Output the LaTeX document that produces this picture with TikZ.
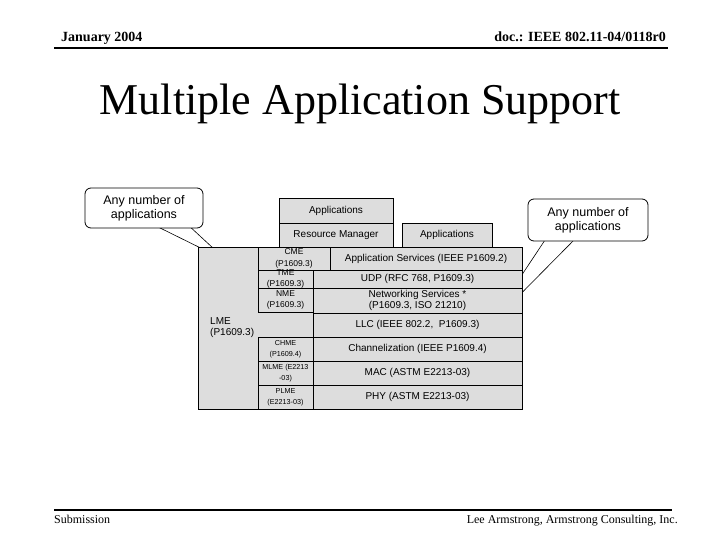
\documentclass[tikz,border=0pt]{standalone}
\usepackage{fontspec}
\setmainfont{Liberation Serif}
\newfontfamily\arial{Liberation Sans}
\definecolor{boxgray}{RGB}{221,221,221}
\tikzset{
  lay/.style={draw=black, fill=boxgray, line width=0.8pt, inner sep=0pt, align=center,
    font=\arial\fontsize{10}{11.5}\selectfont},
  sub/.style={lay, font=\arial\fontsize{8.5}{11.5}\selectfont},
  subs/.style={lay, font=\arial\fontsize{7.2}{11}\selectfont},
  callout/.style={draw=black, fill=white, line width=0.8pt, rounded corners=6pt, align=center,
    font=\arial\fontsize{12.5}{14}\selectfont, inner sep=0pt},
  tail/.style={draw=black, fill=white, line width=0.6pt},
  rule/.style={line width=2pt}
}
\begin{document}
\begin{tikzpicture}[x=1pt,y=-1pt]
\useasboundingbox (0,0) rectangle (720,540);
% header / footer
\node[anchor=base west, inner sep=0pt, font=\bfseries\fontsize{14}{16}\selectfont] (date) at (61,42) {January 2004};
\node[anchor=base east, inner sep=0pt, font=\bfseries\fontsize{14}{16}\selectfont] (doc) at (666,42) {doc.: IEEE 802.11-04/0118r0};
\coordinate (hl) at (54,48); \coordinate (hr) at (668,48);
\draw[rule] (hl) -- (hr);
\node[anchor=base, inner sep=0pt, font=\fontsize{44}{48}\selectfont] (title) at (360,115) {Multiple Application Support};
\coordinate (fl) at (54,510); \coordinate (fr) at (672,510);
\draw[rule] (fl) -- (fr);
\node[anchor=base west, inner sep=0pt, font=\fontsize{12}{14}\selectfont] (sub) at (54,523) {Submission};
\node[anchor=base east, inner sep=0pt, font=\fontsize{12}{14}\selectfont] (auth) at (678,523) {Lee Armstrong, Armstrong Consulting, Inc.};
% callout tails
\coordinate (lt1) at (152,224); \coordinate (lt2) at (187,224); \coordinate (ltip) at (227,261);
\draw[tail] (lt1) -- (ltip) -- (lt2);
\coordinate (rt1) at (547,237); \coordinate (rt2) at (577,237); \coordinate (rtip) at (486,329);
\draw[tail] (rt1) -- (rtip) -- (rt2);
% callouts
\node[callout, minimum width=118, minimum height=40] (cl) at (144,208) {Any number of\\applications};
\node[callout, minimum width=120, minimum height=42] (cr) at (588,220) {Any number of\\applications};
% stack
\node[lay, minimum width=114, minimum height=25] (app1) at (336,210.5) {Applications};
\node[lay, minimum width=114, minimum height=24] (rm) at (336,235) {Resource Manager};
\node[lay, minimum width=90, minimum height=24] (app2) at (447,235) {Applications};
\node[lay, minimum width=115, minimum height=162] (lme) at (255.5,328) {};
\node[anchor=west, inner sep=0pt, align=left, font=\arial\fontsize{10}{11.5}\selectfont] (lmet) at (210,327.5) {LME\\(P1609.3)};
\node[sub, minimum width=72, minimum height=23] (cme) at (294,258.5) {CME\\(P1609.3)};
\node[lay, minimum width=192, minimum height=23] (aps) at (426,258.5) {Application Services (IEEE P1609.2)};
\node[sub, minimum width=55, minimum height=18, font=\arial\fontsize{8.5}{10.5}\selectfont] (tme) at (285.5,279) {TME\\(P1609.3)};
\node[sub, minimum width=55, minimum height=24] (nme) at (285.5,300) {NME\\(P1609.3)};
\node[lay, minimum width=209, minimum height=18] (udp) at (417.5,279) {UDP (RFC 768, P1609.3)};
\node[lay, minimum width=209, minimum height=25] (net) at (417.5,300.5) {Networking Services *\\(P1609.3, ISO 21210)};
\node[lay, minimum width=209, minimum height=24] (llc) at (417.5,325) {LLC (IEEE 802.2,\ \ P1609.3)};
\node[subs, minimum width=55, minimum height=24] (chme) at (285.5,349) {CHME\\(P1609.4)};
\node[lay, minimum width=209, minimum height=24] (chan) at (417.5,349) {Channelization (IEEE P1609.4)};
\node[subs, minimum width=55, minimum height=24] (mlme) at (285.5,373) {MLME (E2213\\-03)};
\node[lay, minimum width=209, minimum height=24] (mac) at (417.5,373) {MAC (ASTM E2213-03)};
\node[subs, minimum width=55, minimum height=24] (plme) at (285.5,397) {PLME\\(E2213-03)};
\node[lay, minimum width=209, minimum height=24] (phy) at (417.5,397) {PHY (ASTM E2213-03)};
\end{tikzpicture}
\end{document}
